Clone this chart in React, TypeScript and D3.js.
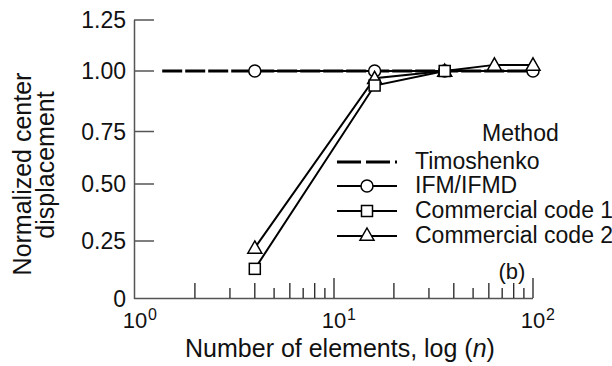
import React from "react";
import * as d3 from "d3";

const yTickValues = [0, 0.25, 0.5, 0.75, 1.0, 1.25];
const yTickLabels = ["0", "0.25", "0.50", "0.75", "1.00", "1.25"];
const xDecades = [1, 10, 100];
const xDecadeExps = ["0", "1", "2"];

const timoN = [1.37, 100];
const timoV = [1.0, 1.0];
const ifmN = [4, 16, 36, 100];
const ifmV = [1.0, 1.0, 1.0, 1.0];
const cc1N = [4, 16, 36];
const cc1V = [0.13, 0.94, 1.0];
const cc2N = [4, 16, 36, 64, 100];
const cc2V = [0.22, 0.97, 1.0, 1.03, 1.03];

const legendLabels = ["Timoshenko", "IFM/IFMD", "Commercial code 1", "Commercial code 2"];

const FONT = "'Liberation Sans', Arial, Helvetica, sans-serif";
const AX = "#555";

export default function App() {
  const x = d3.scaleLog().domain([1, 100]).range([135, 533]);
  // drawn axis in the source is slightly uneven; follow its tick positions
  const y = d3.scaleLinear().domain(yTickValues).range([299, 241, 184, 131.5, 71, 20]);

  const line = d3
    .line<[number, number]>()
    .x((d) => x(d[0]))
    .y((d) => y(d[1]));
  const zip = (a: number[], b: number[]) => a.map((v, i) => [v, b[i]] as [number, number]);

  const minor: { v: number; len: number }[] = [];
  for (const dec of [1, 10]) {
    for (let k = 2; k <= 9; k++) minor.push({ v: dec * k, len: k % 2 === 0 ? 15 : 10 });
  }

  const tri = (cx: number, cy: number, s = 7) =>
    `M${cx},${cy - s} L${cx + s},${cy + s * 0.75} L${cx - s},${cy + s * 0.75} Z`;

  const legY = [162, 186, 211, 236];

  return (
    <svg width={612} height={366} style={{ position: "absolute", left: 0, top: 0 }} fontFamily={FONT}>
      <rect x={0} y={0} width={612} height={366} fill="#fff" />
      {/* axes */}
      <line x1={134.5} x2={134.5} y1={20} y2={299} stroke={AX} strokeWidth={1.5} />
      <line x1={134} x2={533} y1={298.5} y2={298.5} stroke={AX} strokeWidth={1.5} />
      {yTickValues.map((v, i) => (
        <g key={"yt" + i}>
          {v > 0 && <line x1={134} x2={154} y1={y(v)} y2={y(v)} stroke={AX} strokeWidth={1.5} />}
          <text x={126} y={y(v)} dy="0.36em" textAnchor="end" fontSize={23} fill="#111">
            {yTickLabels[i]}
          </text>
        </g>
      ))}
      {minor.map((m, i) => (
        <line key={"mx" + i} x1={x(m.v)} x2={x(m.v)} y1={298} y2={298 - m.len} stroke="#222" strokeWidth={1.3} />
      ))}
      {xDecades.slice(1).map((v, i) => (
        <line key={"Mx" + i} x1={x(v)} x2={x(v)} y1={298} y2={278} stroke="#222" strokeWidth={1.3} />
      ))}
      {xDecades.map((v, i) => (
        <g key={"xl" + i}>
          <text x={x(v)} y={328} textAnchor="middle" fontSize={22} fill="#111">
            10
          </text>
          <text x={x(v) + 13} y={320} textAnchor="start" fontSize={16} fill="#111">
            {xDecadeExps[i]}
          </text>
        </g>
      ))}
      {/* axis titles */}
      <text x={340} y={357} textAnchor="middle" fontSize={25} fill="#111">
        Number of elements, log (<tspan fontStyle="italic">n</tspan>)
      </text>
      <g transform="translate(31,174) rotate(-90)">
        <text x={0} y={0} textAnchor="middle" fontSize={25} fill="#111">
          Normalized center
        </text>
      </g>
      <g transform="translate(54,165) rotate(-90)">
        <text x={0} y={0} textAnchor="middle" fontSize={25} fill="#111">
          displacement
        </text>
      </g>

      {/* series lines */}
      <path d={line(zip(timoN, timoV)) || ""} fill="none" stroke="#000" strokeWidth={3.2} strokeDasharray="20,3" />
      <path d={line(zip(ifmN, ifmV)) || ""} fill="none" stroke="#000" strokeWidth={2} />
      <path d={line(zip(cc2N, cc2V)) || ""} fill="none" stroke="#000" strokeWidth={2} />
      <path d={line(zip(cc1N, cc1V)) || ""} fill="none" stroke="#000" strokeWidth={2} />

      {/* markers */}
      {ifmN.map((n, i) => (
        <circle key={"c" + i} cx={x(n)} cy={y(ifmV[i])} r={6} fill="#fff" stroke="#000" strokeWidth={1.5} />
      ))}
      {cc2N.map((n, i) => (
        <path key={"t" + i} d={tri(x(n), y(cc2V[i]))} fill="#fff" stroke="#000" strokeWidth={1.5} />
      ))}
      {cc1N.map((n, i) => (
        <rect key={"s" + i} x={x(n) - 5.5} y={y(cc1V[i]) - 5.5} width={11} height={11} fill="#fff" stroke="#000" strokeWidth={1.5} />
      ))}

      {/* legend */}
      <text x={482} y={141} fontSize={23} fill="#111">
        Method
      </text>
      {legendLabels.map((lab, i) => (
        <g key={"lg" + i}>
          <line
            x1={337}
            x2={397}
            y1={legY[i]}
            y2={legY[i]}
            stroke="#000"
            strokeWidth={i === 0 ? 3 : 2}
            strokeDasharray={i === 0 ? "24,5" : undefined}
          />
          {i === 1 && <circle cx={367} cy={legY[i]} r={6} fill="#fff" stroke="#000" strokeWidth={1.5} />}
          {i === 2 && <rect x={361.5} y={legY[i] - 5.5} width={11} height={11} fill="#fff" stroke="#000" strokeWidth={1.5} />}
          {i === 3 && <path d={tri(367, legY[i] - 1)} fill="#fff" stroke="#000" strokeWidth={1.5} />}
          <text x={415} y={legY[i] + 7} fontSize={23} fill="#111">
            {lab}
          </text>
        </g>
      ))}
      <text x={512} y={279} textAnchor="middle" fontSize={22} fill="#111">
        (b)
      </text>
    </svg>
  );
}
